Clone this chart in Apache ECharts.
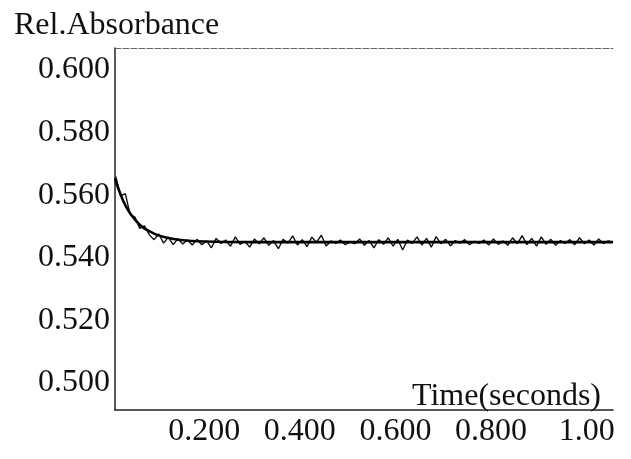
<!DOCTYPE html>
<html>
<head>
<meta charset="utf-8">
<script src="https://cdn.jsdelivr.net/npm/echarts@6/dist/echarts.min.js"></script>
<style>
html,body{margin:0;padding:0;background:#fff;}
#chart{width:631px;height:459px;}
</style>
</head>
<body>
<div id="chart"></div>
<script>
// ---- data ----
var xTickValues = [0.2, 0.4, 0.6, 0.8, 1.0];
var xTickLabels = ['0.200', '0.400', '0.600', '0.800', '1.00'];
var yTickValues = [0.50, 0.52, 0.54, 0.56, 0.58, 0.60];
var yTickLabels = ['0.500', '0.520', '0.540', '0.560', '0.580', '0.600'];

// measured (noisy) trace
var measTimes = [
  0.015,0.025,0.035,0.045,0.055,0.065,0.075,0.085,0.095,0.105,
  0.115,0.125,0.135,0.145,0.155,0.165,0.175,0.185,0.195,0.205,
  0.215,0.225,0.235,0.245,0.255,0.265,0.275,0.285,0.295,0.305,
  0.315,0.325,0.335,0.345,0.355,0.365,0.375,0.385,0.395,0.405,
  0.415,0.425,0.435,0.445,0.455,0.465,0.475,0.485,0.495,0.505,
  0.515,0.525,0.535,0.545,0.555,0.565,0.575,0.585,0.595,0.605,
  0.615,0.625,0.635,0.645,0.655,0.665,0.675,0.685,0.695,0.705,
  0.715,0.725,0.735,0.745,0.755,0.765,0.775,0.785,0.795,0.805,
  0.815,0.825,0.835,0.845,0.855,0.865,0.875,0.885,0.895,0.905,
  0.915,0.925,0.935,0.945,0.955,0.965,0.975,0.985,0.995,1.005,
  1.015,1.025,1.035,1.045,1.055
];
var measValues = [
  0.5660,0.5598,0.5605,0.5538,0.5530,0.5494,0.5502,0.5474,0.5458,0.5476,
  0.5447,0.5466,0.5442,0.5461,0.5444,0.5457,0.5441,
  0.5459,0.5442,0.5454,0.5432,0.5462,0.5446,0.5457,0.5437,0.5467,0.5443,
  0.5453,0.5434,0.5460,0.5445,0.5464,0.5440,0.5455,0.5429,0.5459,0.5447,
  0.5470,0.5441,0.5458,0.5436,0.5466,0.5450,0.5472,0.5438,0.5454,0.5446,
  0.5457,0.5442,0.5451,0.5445,0.5460,0.5440,0.5455,0.5432,0.5458,0.5443,
  0.5464,0.5437,0.5459,0.5425,0.5457,0.5446,0.5467,0.5441,0.5462,0.5434,
  0.5468,0.5445,0.5459,0.5438,0.5455,0.5447,0.5458,0.5442,0.5453,0.5446,
  0.5457,0.5441,0.5460,0.5443,0.5454,0.5440,0.5464,0.5445,0.5471,0.5442,
  0.5462,0.5437,0.5467,0.5443,0.5459,0.5440,0.5455,0.5446,0.5458,0.5442,
  0.5464,0.5445,0.5457,0.5441,0.5460,0.5446,0.5454,0.5450
];

// fitted (smooth) curve
var fitTimes = [0.0134,0.02,0.03,0.04,0.05,0.06,0.07,0.08,0.10,0.12,0.15,0.20,0.30,0.50,0.70,0.90,1.055];
var fitValues = [0.5654,0.5623,0.5584,0.5554,0.5532,0.5514,0.5499,0.5489,0.5474,0.5465,0.5457,0.5452,0.5450,0.5450,0.5450,0.5450,0.5450];

function pairs(xs, ys) {
  var out = [];
  for (var i = 0; i < xs.length; i++) out.push([xs[i], ys[i]]);
  return out;
}
function labelFor(values, labels) {
  return function (v) {
    for (var i = 0; i < values.length; i++) {
      if (Math.abs(values[i] - v) < 1e-6) return labels[i];
    }
    return '';
  };
}

var FONT = "'Liberation Serif', 'Times New Roman', serif";
var chart = echarts.init(document.getElementById('chart'), null, {renderer: 'canvas'});
chart.setOption({
  animation: false,
  backgroundColor: '#ffffff',
  title: [
    {text: 'Rel.Absorbance', left: 9, top: 5,
     textStyle: {fontFamily: FONT, fontSize: 32, fontWeight: 'normal', color: '#111'}},
    {text: 'Time(seconds)', right: 25, top: 376,
     textStyle: {fontFamily: FONT, fontSize: 32, fontWeight: 'normal', color: '#111'}}
  ],
  grid: {left: 115, top: 48, right: 18, bottom: 49},
  xAxis: [
    {
      type: 'value', min: 0.0134, max: 1.055,
      axisLine: {show: true, onZero: false, lineStyle: {color: '#222', width: 1.5}},
      axisTick: {show: false},
      splitLine: {show: false},
      axisLabel: {
        customValues: xTickValues,
        formatter: labelFor(xTickValues, xTickLabels),
        fontFamily: FONT, fontSize: 32, color: '#111', margin: 6
      }
    },
    {
      type: 'value', position: 'top', min: 0.0134, max: 1.055,
      axisLine: {show: true, onZero: false, lineStyle: {color: '#666', width: 1, type: [6, 2]}},
      axisTick: {show: false}, axisLabel: {show: false}, splitLine: {show: false}
    }
  ],
  yAxis: {
    type: 'value', min: 0.4914, max: 0.607,
    axisLine: {show: true, onZero: false, lineStyle: {color: '#222', width: 1.5}},
    axisTick: {show: false},
    splitLine: {show: false},
    axisLabel: {
      customValues: yTickValues,
      formatter: labelFor(yTickValues, yTickLabels),
      fontFamily: FONT, fontSize: 32, color: '#111', margin: 5
    }
  },
  series: [
    {
      type: 'line', xAxisIndex: 0, data: pairs(measTimes, measValues),
      showSymbol: false, symbol: 'none',
      lineStyle: {color: '#111', width: 1.4}
    },
    {
      type: 'line', xAxisIndex: 0, data: pairs(fitTimes, fitValues),
      showSymbol: false, symbol: 'none', smooth: 0.3,
      lineStyle: {color: '#000', width: 2.6}
    }
  ]
});
</script>
</body>
</html>
